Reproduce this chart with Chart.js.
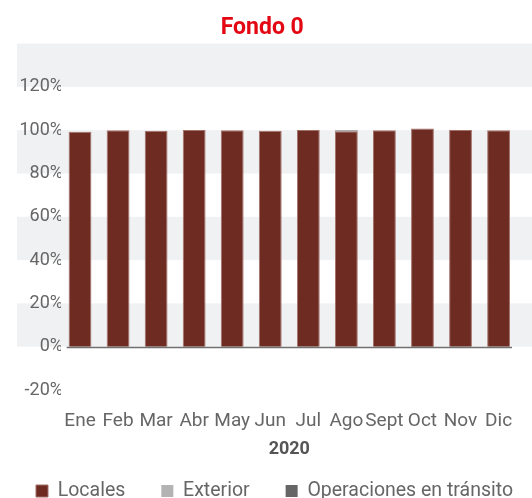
<!DOCTYPE html>
<html>
<head>
<meta charset="utf-8">
<script src="https://cdn.jsdelivr.net/npm/chart.js@4"></script>
<style>
html,body{margin:0;padding:0;background:#fff;}
#wrap{width:532px;height:498px;}
</style>
</head>
<body>
<div id="wrap"><canvas id="c" width="532" height="498"></canvas></div>
<script>
const categories = ['Ene','Feb','Mar','Abr','May','Jun','Jul','Ago','Sept','Oct','Nov','Dic'];
const locales = [99.3, 100.0, 99.8, 100.1, 100.0, 99.8, 100.1, 99.5, 100.0, 100.8, 100.1, 100.0];
const exterior = [0, 0, 0, 0, 0, 0, 0, 0, 0, 0, 0, 0];
const transito = [0, 0, 0, 0, 0, 0, 0, 0.4, 0, -0.6, 0, 0];
const yTicks = [-20, 0, 20, 40, 60, 80, 100, 120, 140];
const bands = [[0,20],[40,60],[80,100],[120,140]];
const titleText = 'Fondo 0';
const xTitle = '2020';
const seriesNames = ['Locales','Exterior','Operaciones en tránsito'];

const FONT = 'Roboto';
const bandPlugin = {
  id: 'bands',
  beforeDraw(chart) {
    const y = chart.scales.y, ctx = chart.ctx;
    ctx.save();
    ctx.fillStyle = '#f0f1f3';
    bands.forEach(([a,b]) => {
      const y1 = y.getPixelForValue(b), y2 = y.getPixelForValue(a);
      ctx.fillRect(17, y1, chart.width - 17, y2 - y1);
    });
    ctx.restore();
  },
  afterDatasetsDraw(chart) {
    const y = chart.scales.y, ctx = chart.ctx;
    const meta = chart.getDatasetMeta(0);
    const first = meta.data[0], last = meta.data[meta.data.length-1];
    const x1 = first.x - first.width/2 - 2, x2 = last.x + last.width/2 + 2;
    const y0 = Math.round(y.getPixelForValue(0)) + 0.5;
    ctx.save();
    ctx.strokeStyle = '#707070';
    ctx.lineWidth = 1.5;
    ctx.beginPath(); ctx.moveTo(x1, y0); ctx.lineTo(x2, y0); ctx.stroke();
    ctx.restore();
  }
};
// keep the legend on one row and give it a fixed height
const legendFit = {
  id: 'legendFit',
  beforeLayout(chart) {
    const lg = chart.legend;
    if (lg && !lg._fixed) {
      const orig = lg.fit.bind(lg);
      lg.fit = function() { this.maxWidth = 2000; orig(); this.height = 52.75; };
      lg._fixed = true;
    }
  },
  afterLayout(chart) {
    if (chart.legend) chart.legend.right = 2000;
  }
};

new Chart(document.getElementById('c'), {
  type: 'bar',
  data: {
    labels: categories,
    datasets: [
      {label: seriesNames[0], data: locales, backgroundColor: '#6e2b22', borderColor: '#a3716a', borderWidth: 1, borderSkipped: 'start'},
      {label: seriesNames[1], data: exterior, backgroundColor: '#b3b3b3', borderWidth: 0},
      {label: seriesNames[2], data: transito, backgroundColor: '#666666', borderWidth: 0}
    ]
  },
  options: {
    responsive: false,
    animation: false,
    datasets: {bar: {categoryPercentage: 0.6, barPercentage: 1.0}},
    layout: {padding: {left: 0, right: 7.5, top: 0, bottom: 0}},
    plugins: {
      title: {display: true, text: titleText, color: '#e30613', font: {family: FONT, size: 23, weight: 'bold'}, padding: {top: 14, bottom: 2}},
      legend: {position: 'bottom', align: 'start', labels: {color: '#666', font: {family: FONT, size: 19.5}, boxWidth: 12, boxHeight: 12, padding: 36}},
      tooltip: {enabled: false}
    },
    scales: {
      x: {
        stacked: true,
        grid: {display: false, drawTicks: false},
        border: {display: false},
        ticks: {color: '#666', font: {family: FONT, size: 19}, padding: 19.6, autoSkip: false, maxRotation: 0},
        title: {display: true, text: xTitle, color: '#555', font: {family: FONT, size: 18, weight: 'bold'}, padding: {top: -13.8, bottom: -14.55}}
      },
      y: {
        stacked: true,
        min: -20, max: 140,
        afterBuildTicks(s) { s.ticks = yTicks.map(v => ({value: v})); },
        afterFit(s) { s.width = 61; },
        grid: {display: false, drawTicks: false},
        border: {display: false},
        ticks: {color: '#666', font: {family: FONT, size: 18}, padding: -2, callback: v => v === 140 ? '' : v + '%'}
      }
    }
  },
  plugins: [bandPlugin, legendFit]
});
</script>
</body>
</html>
